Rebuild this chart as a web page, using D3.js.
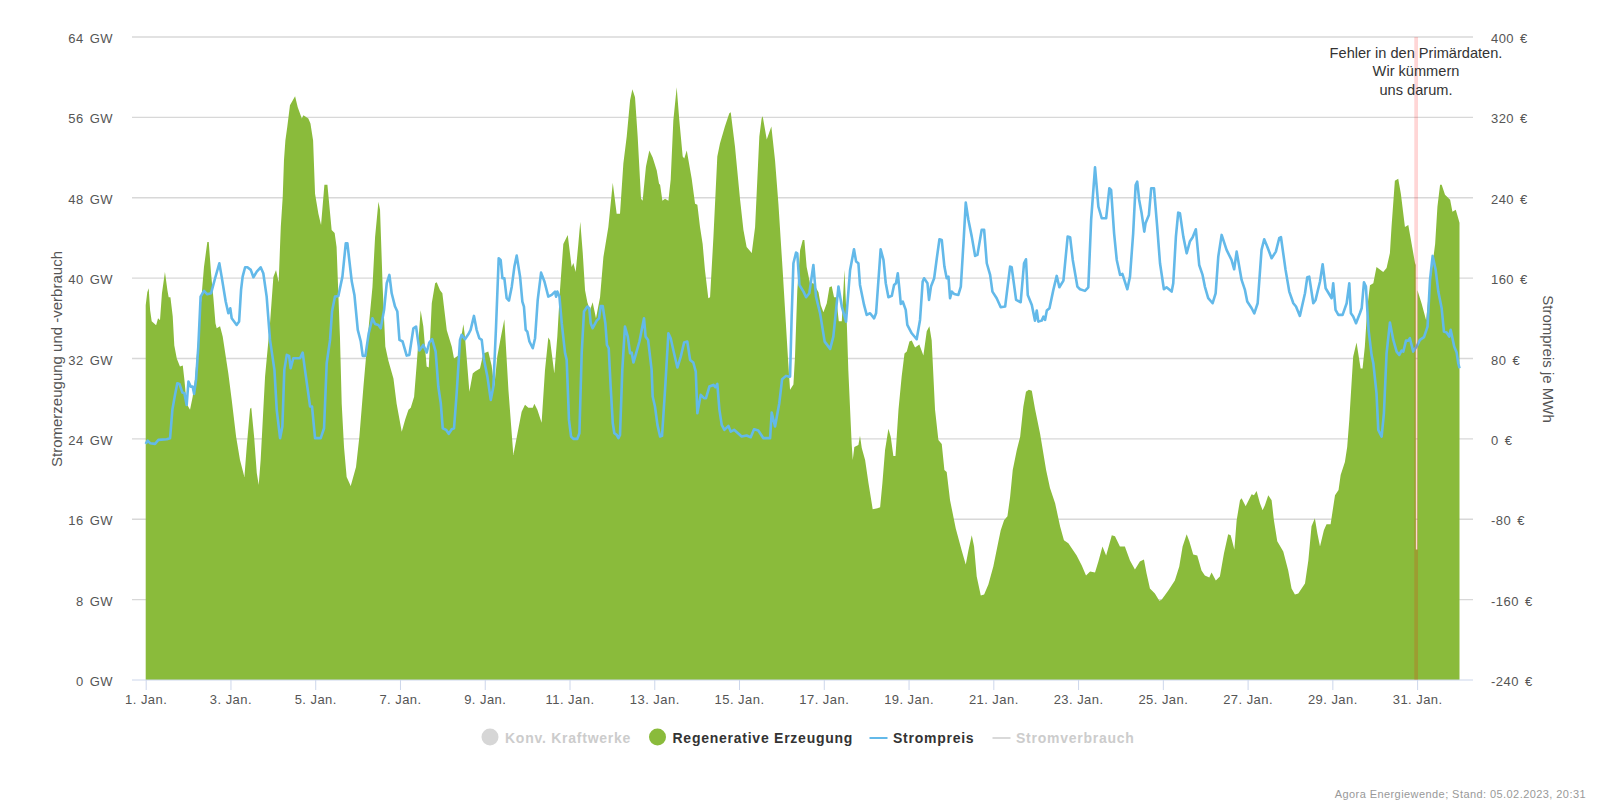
<!DOCTYPE html>
<html>
<head>
<meta charset="utf-8">
<script src="https://cdn.jsdelivr.net/npm/d3@7"></script>
<style>
  html, body { margin: 0; padding: 0; background: #fff; }
  svg { display: block; font-family: "Liberation Sans", Arial, sans-serif; }
</style>
</head>
<body>
<svg id="chart" width="1600" height="804"></svg>
<script>
// hour of the month, GW
const genPoints = [[0,37.3],[0.9,38.6],[1.7,39],[2.5,36.8],[3.4,35.7],[5.9,35.3],[7,36],[8.1,35.8],[9.2,38.5],[10.9,40.6],[12.3,38.8],[13,38.1],[14,38.1],[15.3,36.2],[16.2,33.3],[17.6,32],[19.4,31.2],[21,31.3],[21.9,29.9],[23.2,27.5],[25.1,26.9],[26.6,28.2],[27.9,29.9],[29.8,34.2],[31.3,37.5],[33,41.1],[34.9,43.6],[35.7,43.6],[37,40.5],[38.3,38.1],[39.5,35.5],[40.2,35],[42.1,35.2],[43.6,34.2],[46.8,30.5],[48.7,27.9],[51.2,24.2],[53.4,21.9],[55.9,20.2],[57.2,23.2],[59.1,27],[59.8,27.1],[61.4,24.2],[62.9,20.6],[64,19.4],[65.1,21.9],[67.6,30.2],[70.4,35.5],[72.3,40.1],[73.8,40.8],[75.3,39.6],[76.5,45.1],[77.6,48.1],[78.3,51.7],[79.1,53.7],[80.2,55.1],[81.7,57.2],[84.6,58.1],[86.1,57],[88.4,55.9],[89.3,56.2],[92.1,55.9],[93.3,55.4],[94.8,53.7],[95.9,48.4],[97.8,46.4],[99.3,45.3],[101.2,49.3],[102.9,49.3],[105.3,44.8],[107,44.5],[108.1,43.1],[110,34.2],[111,27.5],[112.3,23.2],[113.8,20.2],[116.1,19.3],[119.1,21.2],[121,24.2],[123.3,29.2],[126.1,34.8],[128.4,39.1],[129.9,44.1],[131.8,47.6],[132.7,46.8],[134.2,39.1],[135.7,33.2],[137.4,31.8],[140.3,30],[142.1,27.5],[145,24.7],[146.9,25.9],[148.8,26.9],[150.1,27.1],[152,28.2],[153.5,31.5],[155.7,36.8],[157.2,35.2],[159.1,31.2],[160.3,31.1],[162,37.5],[163.9,39.5],[164.8,39.6],[166.7,38.8],[168,38.5],[170.5,34.8],[173.3,33.2],[174.6,32],[177,32.3],[179.9,35.4],[180.8,34.2],[183.3,28.7],[185.2,30.5],[186.5,30.7],[189.3,31],[191.2,32.5],[194,32.7],[195.9,31.3],[197.4,29.2],[199.1,32.2],[201.2,34.2],[203.1,35.9],[205.4,28.9],[208.2,22.4],[210.5,24.5],[212.9,26.7],[214.8,27.4],[216.7,27.1],[219.2,27.1],[220.1,27.5],[221.8,26.9],[224.2,25.6],[226.1,30.8],[228,34.1],[229,33.8],[231.4,30.5],[233.1,34.2],[234.6,38.8],[236.5,43.4],[239,44.3],[241.2,41.1],[242.2,41.5],[243.5,40.6],[245,43.4],[246.1,45.6],[247.5,42.5],[248.8,38.8],[250.1,37.6],[251.6,36.8],[253.1,37.6],[255,36],[257.3,38.1],[259.2,42.1],[262,45.1],[264.5,49.5],[266.7,46.4],[268.6,46.4],[270.5,51.4],[272.4,54.1],[274.3,57.7],[275.6,58.8],[277.1,58],[278.6,54.1],[280.5,47.9],[281.4,47.7],[283.3,51.1],[285.2,52.7],[287.1,52],[289.4,50.7],[290.7,49.4],[291.3,49.3],[292.6,47.7],[294.1,47.9],[296,47.7],[297.3,49.8],[298.8,55.7],[300.7,59],[302.2,55.7],[304.1,52.1],[305,51.9],[306.4,52.7],[309.2,49.9],[311.1,47.4],[312.4,47.3],[313.9,45.1],[315.4,43.4],[316.7,40.8],[318.6,38],[319.6,38.1],[321.5,44.1],[323.7,52.1],[325.2,53.4],[328,55.1],[330.5,56.4],[331.3,56.5],[333.7,53.1],[336.6,47.8],[338.5,44.8],[340.3,43.1],[343.2,42.5],[345.1,45.1],[347.5,54.1],[348.8,55.9],[349.4,56.1],[351.7,53.8],[354.3,55.1],[356.4,51.7],[358.3,47.4],[360.7,40.8],[363.9,31.5],[364.9,28.9],[366.8,29.4],[367.7,32.2],[369,38.8],[370.6,42.8],[372.1,43.8],[373,43.8],[374.3,41.1],[376.2,39.5],[378.1,39.5],[381,38.6],[382.3,37.3],[383.8,36.6],[385.7,37.5],[387.2,39.1],[388.5,39.2],[389.8,38.1],[391,38.1],[392.5,35.7],[394.2,35.7],[395.7,40.8],[397,35.7],[397.9,30.8],[398.9,26.9],[399.8,23.5],[400.4,21.9],[401.3,23.2],[403.6,23.4],[404.5,24.3],[405.5,23.1],[407.4,21.9],[409.3,19.6],[411.7,17],[414.4,17.1],[415.9,17.2],[417.2,19.6],[418.7,22.9],[420.6,25],[421.9,24.2],[423.4,22.3],[424.6,22.3],[426.3,26.9],[428.1,30.2],[429.7,32.5],[431,32.7],[432.5,33.7],[433.8,33.8],[435.7,33.1],[438.1,33.4],[440.4,32.3],[442.3,34.7],[443.8,35.2],[445.1,33.8],[447,26.9],[448.9,23.9],[450.8,23.5],[452.3,20.9],[453.6,20.7],[455.5,17.9],[458.7,15.1],[462.1,12.9],[464.4,11.5],[465.9,12.9],[467.8,14.4],[469.1,13.3],[470.6,10.3],[472.9,8.4],[474.8,8.5],[477.2,9.5],[480,11.3],[482.9,13.8],[484.2,14.9],[486.1,15.9],[488,16.3],[489.5,18.2],[491,20.9],[493.3,22.9],[495.2,24.2],[497,27.2],[498.5,28.7],[500.1,28.9],[501.8,28.8],[503.6,27],[506.5,24.5],[509.9,20.9],[512.1,19.1],[515,17.6],[517.8,15.3],[520,13.9],[522.5,13.6],[527.2,12.4],[530.1,11.4],[532.5,10.4],[534.8,10.8],[537.6,10.7],[539.5,11.8],[541.8,13.3],[543.9,12.4],[547.1,14.4],[548.9,14.3],[551.7,13.3],[554.5,13.3],[557.4,11.9],[560.2,11],[563,11.8],[565.3,12],[566.8,10.6],[568.7,9.1],[571.5,8.6],[574,7.9],[575.3,8],[579.1,8.9],[582.8,9.9],[585.3,11.3],[587.2,13.3],[589.5,14.5],[591,13.8],[593.2,12.5],[595.5,12.4],[597.9,10.9],[599.8,10.4],[602.3,10.2],[603.6,10.7],[606,9.9],[608.3,10.3],[610.6,12.6],[613,14.5],[614.4,14.4],[616.5,13],[617.8,15.9],[619.7,17.9],[620.6,18.1],[622.9,17.3],[626.3,18.5],[627.6,18.4],[629.1,18.8],[631,17.6],[632.5,16.9],[633.8,17.4],[635.7,18.4],[637.6,17.9],[638.9,15.9],[640.8,13.8],[644.2,12.8],[647,10.9],[648.9,9.1],[650.8,8.5],[652.7,8.6],[656.5,9.6],[658.4,11.9],[660.2,15.3],[662.1,16.1],[663.5,14.6],[665,13.3],[667.2,14.9],[668.7,15.5],[671,15.5],[673.5,18.4],[675.5,18.9],[676.7,20.4],[679.1,21.7],[680.4,23.2],[681.6,25.9],[683.8,32.2],[685.7,33.6],[688,31],[689.1,31],[690.4,33.2],[691.8,37.1],[693.3,39.3],[695.2,39.5],[697,41.1],[700.8,40.6],[702.7,41],[704.6,42.5],[705.5,45.1],[707.4,49.7],[709.3,49.9],[710.8,48.4],[713.1,45.1],[715,45.3],[716.9,43.4],[718.8,41.5],[719.2,41.3],[719.3,13],[720.1,13],[720.2,38.8],[722.5,37.5],[725.1,35.8],[726.4,38.1],[728.3,40.8],[730.2,43.4],[731.5,47.1],[733,49.3],[733.9,49.3],[735.8,48.3],[738.7,47.8],[740,46.6],[741.9,46.8],[744,45.5]];

// hour of the month, EUR per MWh
const pricePoints = [[0,-5],[1.1,-1.7],[2.5,-4.3],[5.3,-5],[7.2,-1],[11.9,-0.3],[13.8,0.7],[15.1,28.9],[16.6,43.8],[17.9,55.4],[19.1,54.7],[20.8,46.1],[21.9,45.4],[23.2,33.8],[24.2,57],[25.5,52],[26.6,52],[27.4,44.8],[28.5,58.7],[29.8,91.9],[31.1,141.6],[33,147.3],[34.9,143.9],[37,144.9],[39.3,159.9],[41.7,174.8],[43,161.5],[45.3,136.7],[46.8,125],[47.9,130],[48.7,120],[51.5,113.4],[52.9,116.8],[54,148.3],[54.9,161.5],[56.3,170.8],[57.6,170.8],[59.5,168.2],[61,160.9],[62.9,166.5],[65.1,170.8],[66.6,164.8],[68.5,141.6],[70.4,98.5],[72.9,68.7],[74.2,28.9],[76.1,0.7],[77.4,12.3],[78.5,68.7],[79.9,83.6],[81.2,82.6],[82.1,70.3],[83.6,80.3],[87.4,80.3],[88.9,85.9],[90.2,68.7],[93.1,32.2],[94.2,32.2],[95.9,0.7],[99.1,0.7],[101,10.6],[102.5,75.3],[104.4,98.5],[105.5,126.7],[107.2,141.6],[109.1,142.3],[111.4,161.5],[113.3,194.7],[114.2,194.7],[116.7,156.6],[118.2,143.3],[120.1,108.5],[121.8,96.9],[122.9,82.6],[124.4,82.6],[126.3,105.1],[128.4,120],[129.9,114.4],[131.8,113.4],[133.1,110.1],[135,128.4],[136.5,154.9],[138,163.2],[139.3,144.9],[141.2,131.7],[142.5,126.7],[143.7,98.5],[145.5,96.9],[147.8,82.9],[149.3,83.6],[151.6,110.1],[153.1,111.8],[155,87.9],[157.2,93.5],[159.1,85.9],[160.6,95.9],[162.2,99.2],[164.2,86.9],[165.7,52.1],[167.1,35.5],[168.2,10.6],[170.1,9],[171.6,5],[173.3,9.6],[174.6,10.6],[176.1,45.4],[178,98.5],[178.9,103.5],[180.8,99.2],[182.7,104.1],[184,108.5],[185.9,122.4],[187.4,108.5],[188.9,100.2],[190.3,98.5],[191.6,78.6],[193.5,62],[195.4,38.8],[196.9,52.1],[198.4,111.8],[199.9,179.8],[201,178.1],[202,159.9],[203.1,159.9],[204.4,140],[205.7,137.6],[207.3,151.5],[208.8,171.5],[210.1,182.4],[212,161.5],[213.3,136.7],[214.2,131.7],[215.2,108.5],[216.1,106.8],[217.3,96.9],[219.2,90.2],[220.5,100.2],[222,138.3],[223.9,165.5],[225.8,156.6],[228,141.6],[229.9,143.3],[231.8,146.6],[232.4,141.6],[233.1,146.6],[234.3,141.6],[235.6,115.1],[237.5,85.2],[238.4,78.6],[239.7,18.9],[240.9,2.3],[242.2,0],[244.4,0],[245.6,5.6],[246.9,85.2],[248.2,126.7],[250.1,131.7],[251.2,130],[252,115.1],[253.1,110.1],[255.4,117.7],[256.7,120],[257.7,132.3],[258.8,132.3],[260.3,115.1],[261.2,93.5],[262.2,90.2],[263.3,52.1],[264.5,15.6],[265.4,5.6],[266.7,4],[267.7,0.7],[268.6,4],[269.9,68.7],[271.4,111.8],[273,101.8],[274.3,85.2],[275.2,85.9],[276.2,76],[278,86.9],[279.6,96.9],[280.9,108.5],[282.2,120],[283.1,101.8],[284.5,98.5],[286.5,68.7],[287.1,42.1],[288.4,32.2],[289.8,13.9],[291.3,2.3],[292.4,3],[294.1,48.8],[296,105.1],[297.3,100.2],[299.2,85.2],[301.1,71],[303,81.9],[304.9,95.9],[306.7,96.9],[308.3,78.6],[310.1,76],[311.5,67],[312.4,25.5],[314.3,43.8],[316.2,40.5],[317.3,40.5],[319.2,52.1],[321.5,53.7],[322.6,51.4],[323.7,54.7],[324.9,28.9],[326.2,13.9],[327.7,9],[330,12.9],[331.3,7.3],[333.2,9],[337.5,2.3],[340.3,3.3],[342.6,1.7],[344.5,9.6],[346.9,8.3],[349.8,0.7],[353.6,0.7],[354.5,26.2],[356.4,12.3],[358.8,35.5],[360.4,59.4],[362.6,62.7],[363.9,62],[364.9,62],[365.8,121.7],[366.8,174.8],[368.3,185.4],[369,184.7],[370.2,153.2],[372.5,146.6],[374,141],[375.8,144.9],[378.1,173.1],[379.6,141.6],[381.9,125],[384.5,96.8],[387.6,89.6],[389.4,101.8],[392.3,151.6],[394.2,131.7],[396.6,116.7],[398.9,168.2],[401.1,188.7],[402.3,176.5],[403.6,174.8],[404.5,153.2],[406.8,133.3],[408.3,123.4],[410.2,125],[412.5,120],[413.6,125],[416.2,188.7],[417.8,178.1],[419.1,154.9],[420.6,141],[422.5,142.3],[423.8,153.2],[424.9,154.9],[425.9,164.8],[426.8,149.9],[427.6,134.3],[428.7,136.7],[430.4,128.4],[431.3,113.4],[433.8,105.1],[436.6,99.2],[438.5,118.4],[440,156.6],[440.8,159.9],[442.7,154.9],[443.6,138.3],[444.7,151.6],[446.5,159.9],[448,179.8],[449.5,198.7],[450.8,198],[452.3,171.5],[453.6,159.9],[454.6,161.5],[455.5,140],[456.5,146.6],[457.8,144.3],[460.2,143.3],[461.6,151.6],[463.1,194.7],[464.4,235.2],[465.9,217.9],[467.8,201.3],[469.7,182.1],[471,183.1],[473.4,208],[474.8,208],[476.3,174.8],[478.2,163.2],[479.5,146.6],[481.9,140],[484.2,131],[486.7,131.7],[489.5,171.5],[490.4,170.8],[492.9,138.3],[495.5,136],[497.4,174.8],[498.5,178.8],[499.5,143.3],[501.8,133.3],[503.6,117.7],[504.6,127.7],[505.5,116.7],[507.4,117.7],[508.4,121.7],[509.3,118.4],[510.3,127.7],[511.8,130],[514,148.3],[515.9,162.2],[517.4,150.9],[519.7,157.5],[522.1,201.3],[523.5,200.7],[525,178.1],[527.6,151.6],[529.1,148.9],[531.9,147.3],[533.8,150.9],[535.4,217.9],[537.6,270.3],[539.5,231.2],[541.4,219.6],[543.9,219.6],[545.7,249.4],[546.7,247.8],[548.4,204.6],[549.9,178.1],[551.8,163.2],[553.1,164.2],[555.9,148.9],[557.4,161.5],[559.2,204.6],[560.6,252.7],[561.5,256],[562.6,237.8],[564,224.5],[565.5,206.3],[566.2,214.6],[568.1,222.9],[569.4,249.4],[571,249.4],[572.8,211.3],[574.4,174.8],[576.6,148.9],[578.1,150.9],[581,146.6],[581.9,154.9],[583.4,201.3],[584.7,225.2],[585.7,224.5],[587.6,201.3],[589.5,184.7],[591.3,196.4],[592.9,200.7],[594.7,208.6],[596.6,173.1],[598.5,163.2],[599.8,151.6],[601.7,140],[604.2,135],[605.9,144.9],[607.4,181.4],[609.3,203],[612.1,188.1],[614.9,178.1],[616.4,168.8],[617.8,186.4],[620.6,158.2],[622.5,148.3],[623.8,136.7],[626.3,130],[627.8,125],[629.7,135],[631.9,188.1],[633.4,198.7],[635.1,191.4],[637.6,179.8],[640,186.4],[641.9,199.7],[642.9,200.7],[645.5,168.2],[647.6,146.6],[649.9,135],[651.4,131.7],[653.6,122.4],[656.5,144.9],[657.8,160.9],[658.9,161.5],[661.2,135],[662.5,138.3],[665,156.6],[666.5,173.8],[668.2,149.9],[671.6,140],[672.5,154.9],[673.8,128.4],[675.4,123.4],[677.8,123.4],[680.1,135],[681.6,154.9],[682.5,125],[683.8,121.7],[685.4,115.1],[687.6,125],[688.6,130],[689.9,155.9],[691,151.6],[692.5,108.5],[694.2,83.6],[695.2,75.3],[697,45.4],[698,9],[699.9,2.3],[701.2,25.5],[702.7,85.2],[704.6,115.8],[706.5,98.5],[708.4,86.9],[709.9,83.6],[711.2,87.9],[712.2,86.9],[713.7,97.8],[715,97.8],[715.9,100.2],[717.8,86.9],[719.7,91.9],[721.6,98.5],[723.9,101.2],[725.9,111.8],[727.3,158.2],[728.8,182.1],[730.5,168.2],[732,146.6],[733.9,130],[735.2,106.8],[736.7,105.8],[738.2,101.8],[739,108.5],[741,91.9],[742.4,85.9],[743.3,75.3],[744,70.3]];

const gwTicks = [0, 8, 16, 24, 32, 40, 48, 56, 64];
const euroTicks = [-240, -160, -80, 0, 80, 160, 240, 320, 400];
const dayLabels = ["1. Jan.", "3. Jan.", "5. Jan.", "7. Jan.", "9. Jan.", "11. Jan.", "13. Jan.", "15. Jan.", "17. Jan.", "19. Jan.", "21. Jan.", "23. Jan.", "25. Jan.", "27. Jan.", "29. Jan.", "31. Jan."];
const errorNote = ["Fehler in den Primärdaten.", "Wir kümmern", "uns darum."];
const errorHours = [718.4, 720.5];
const legendItems = [
  { name: "Konv. Kraftwerke", type: "dot", on: false, x: 490, color: "#d6d6d6" },
  { name: "Regenerative Erzeugung", type: "dot", on: true, x: 657.5, color: "#8abb3b" },
  { name: "Strompreis", type: "line", on: true, x: 869.5, color: "#63b9e9" },
  { name: "Stromverbrauch", type: "line", on: false, x: 992.5, color: "#d9d9d9" }
];

const plotLeft = 145.7, plotRight = 1459.5, plotTop = 37, plotBottom = 680;
const gridLeft = 132, gridRight = 1473;

const svg = d3.select("#chart");

const x = d3.scaleLinear().domain([0, 744]).range([plotLeft, plotRight]);
const yGw = d3.scaleLinear().domain([0, 64]).range([plotBottom, plotTop]);
const yEuro = d3.scaleLinear().domain([-240, 400]).range([plotBottom, plotTop]);

// grid lines sit behind the area
svg.append("g").selectAll("line")
  .data(gwTicks.slice(1))
  .enter().append("line")
    .attr("x1", gridLeft).attr("x2", gridRight)
    .attr("y1", d => yGw(d)).attr("y2", d => yGw(d))
    .attr("stroke", "#d8d8d8").attr("stroke-width", 1.4);

svg.append("path")
  .datum(genPoints)
  .attr("fill", "#8abb3b")
  .attr("d", d3.area().x(d => x(d[0])).y0(plotBottom).y1(d => yGw(d[1])));

svg.append("path")
  .datum(pricePoints)
  .attr("fill", "none")
  .attr("stroke", "#63b9e9")
  .attr("stroke-width", 2.6)
  .attr("stroke-linejoin", "round")
  .attr("d", d3.line().x(d => x(d[0])).y(d => yEuro(d[1])));

// bottom axis
const xAxis = d3.axisBottom(x)
  .tickValues(dayLabels.map((d, i) => i * 48))
  .tickFormat((d, i) => dayLabels[i])
  .tickSize(10)
  .tickPadding(5);

const xg = svg.append("g").attr("transform", `translate(0,${plotBottom})`).call(xAxis);
xg.select(".domain").remove();
xg.selectAll("line").attr("stroke", "#ccd6eb");
xg.selectAll("text")
  .attr("font-size", 13).attr("letter-spacing", 0.45)
  .attr("fill", "#555").attr("font-family", "Liberation Sans");

svg.append("line")
  .attr("x1", gridLeft).attr("x2", gridRight)
  .attr("y1", plotBottom).attr("y2", plotBottom)
  .attr("stroke", "#ccd6eb");

// left and right labels
svg.append("g").selectAll("text")
  .data(gwTicks)
  .enter().append("text")
    .attr("x", 113).attr("y", d => yGw(d) + 6)
    .attr("text-anchor", "end")
    .attr("font-size", 13).attr("letter-spacing", 0.45).attr("word-spacing", 2)
    .attr("fill", "#555")
    .text(d => d + " GW");

svg.append("g").selectAll("text")
  .data(euroTicks)
  .enter().append("text")
    .attr("x", 1491).attr("y", d => yEuro(d) + 6)
    .attr("font-size", 13).attr("letter-spacing", 0.45).attr("word-spacing", 2)
    .attr("fill", "#555")
    .text(d => d + " €");

svg.append("text")
  .attr("transform", "translate(62,359) rotate(-90)")
  .attr("text-anchor", "middle")
  .attr("font-size", 15).attr("fill", "#555")
  .text("Stromerzeugung und -verbrauch");

svg.append("text")
  .attr("transform", "translate(1543,359) rotate(90)")
  .attr("text-anchor", "middle")
  .attr("font-size", 15).attr("fill", "#555")
  .text("Strompreis je MWh");

// error band and its note
svg.append("rect")
  .attr("x", x(errorHours[0])).attr("width", x(errorHours[1]) - x(errorHours[0]))
  .attr("y", plotTop).attr("height", plotBottom - plotTop)
  .attr("fill", "red").attr("fill-opacity", 0.16);

svg.append("g").selectAll("text")
  .data(errorNote)
  .enter().append("text")
    .attr("x", 1416).attr("y", (d, i) => 57.5 + i * 18.6)
    .attr("text-anchor", "middle")
    .attr("font-size", 14.6).attr("fill", "#333")
    .text(d => d);

// legend
const legend = svg.append("g").selectAll("g")
  .data(legendItems)
  .enter().append("g");

legend.filter(d => d.type === "dot").append("circle")
  .attr("cx", d => d.x).attr("cy", 737).attr("r", 8.5)
  .attr("fill", d => d.color);

legend.filter(d => d.type === "line").append("line")
  .attr("x1", d => d.x).attr("x2", d => d.x + 18)
  .attr("y1", 738).attr("y2", 738)
  .attr("stroke", d => d.color).attr("stroke-width", 2);

legend.append("text")
  .attr("x", d => d.type === "dot" ? d.x + 15 : d.x + 23.5)
  .attr("y", 743)
  .attr("font-size", 14).attr("font-weight", "bold")
  .attr("letter-spacing", 0.75)
  .attr("fill", d => d.on ? "#333" : "#ccc")
  .text(d => d.name);

// source line
svg.append("text")
  .attr("x", 1586).attr("y", 798)
  .attr("text-anchor", "end")
  .attr("font-size", 11).attr("letter-spacing", 0.43)
  .attr("fill", "#999")
  .text("Agora Energiewende; Stand: 05.02.2023, 20:31");
</script>
</body>
</html>
